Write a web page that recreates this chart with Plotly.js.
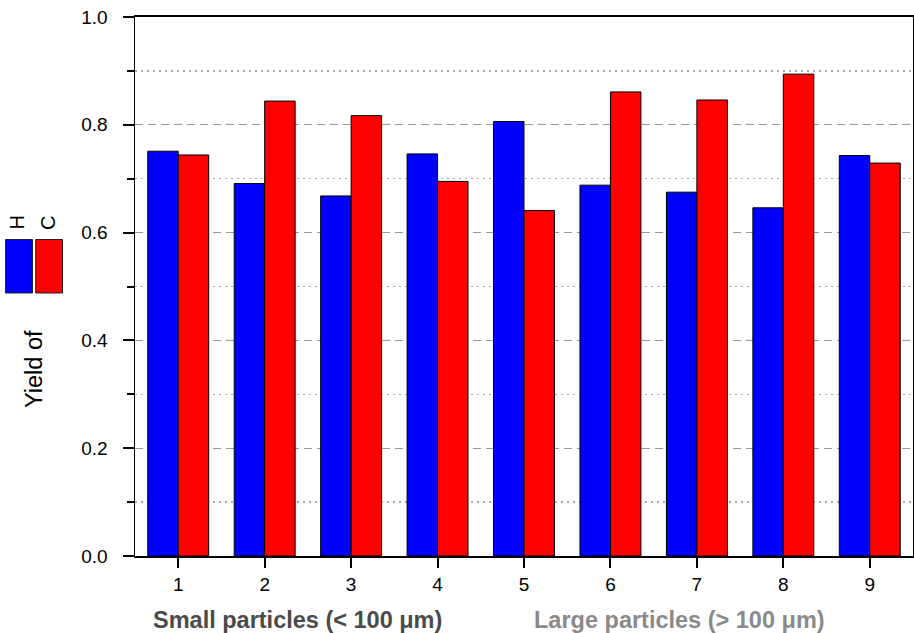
<!DOCTYPE html>
<html>
<head>
<meta charset="utf-8">
<script src="https://cdn.plot.ly/plotly-3.0.1.min.js"></script>
<style>html,body{margin:0;padding:0;background:#fff;}#chart{width:914px;height:633px;}</style>
</head>
<body>
<div id="chart"></div>
<script>
const categories = [1, 2, 3, 4, 5, 6, 7, 8, 9];
const yieldH = [0.751, 0.691, 0.668, 0.746, 0.806, 0.688, 0.675, 0.646, 0.743];
const yieldC = [0.744, 0.844, 0.817, 0.695, 0.641, 0.861, 0.846, 0.894, 0.729];
const seriesNames = ['H', 'C'];
const yTickVals = [0, 0.2, 0.4, 0.6, 0.8, 1.0];
const yTickText = ['0.0', '0.2', '0.4', '0.6', '0.8', '1.0'];
const yMinorVals = [0.1, 0.3, 0.5, 0.7, 0.9];

const FONT = 'Arial, "Liberation Sans", sans-serif';

const traces = [
  {type: 'bar', name: seriesNames[0], x: categories, y: yieldH,
   marker: {color: '#0000ff', line: {color: '#000', width: 1}}},
  {type: 'bar', name: seriesNames[1], x: categories, y: yieldC,
   marker: {color: '#ff0000', line: {color: '#000', width: 1}}}
];

const layout = {
  width: 914, height: 633,
  margin: {l: 135, r: 1, t: 17, b: 77},
  paper_bgcolor: '#fff', plot_bgcolor: '#fff',
  barmode: 'group', bargap: 0.295, bargroupgap: 0,
  showlegend: false,
  font: {family: FONT, color: '#000', size: 19},
  xaxis: {
    range: [0.5, 9.5], tickvals: categories, ticktext: categories.map(String),
    showgrid: false, zeroline: false,
    showline: true, linecolor: '#000', linewidth: 2, mirror: true,
    ticks: 'outside', ticklen: 10, tickwidth: 2, tickcolor: '#000',
    tickfont: {family: FONT, size: 19, color: '#000'}
  },
  yaxis: {
    range: [0, 1], tickmode: 'array', tickvals: yTickVals, ticktext: yTickText,
    showgrid: true, gridcolor: '#999', griddash: '8px,5px', gridwidth: 1,
    zeroline: false,
    showline: true, linecolor: '#000', linewidth: 1.5, mirror: true,
    ticks: 'outside', ticklen: 11, tickwidth: 2, tickcolor: '#000',
    ticklabelstandoff: 11,
    tickfont: {family: FONT, size: 19, color: '#000'},
    minor: {tickmode: 'array', tickvals: yMinorVals, ticks: 'outside', ticklen: 7, tickwidth: 2, tickcolor: '#000',
            showgrid: true, gridcolor: '#aaa', griddash: '2px,4px', gridwidth: 1.5}
  },
  annotations: [
    {text: '<b>Small particles (< 100 μm)</b>', xref: 'paper', yref: 'paper',
     x: 0.209, y: -0.119, xanchor: 'center', yanchor: 'middle', showarrow: false,
     font: {family: FONT, size: 23.5, color: '#4a4a4a'}},
    {text: '<b>Large particles (> 100 μm)</b>', xref: 'paper', yref: 'paper',
     x: 0.7005, y: -0.119, xanchor: 'center', yanchor: 'middle', showarrow: false,
     font: {family: FONT, size: 23.5, color: '#8a8a8a'}},
    {text: 'Yield of', xref: 'paper', yref: 'paper', textangle: -90,
     x: (34 - 135) / 778, y: (556 - 369) / 539, xanchor: 'center', yanchor: 'middle', showarrow: false,
     font: {family: FONT, size: 23.5, color: '#000'}},
    {text: 'H', xref: 'paper', yref: 'paper', textangle: -90,
     x: (16.5 - 135) / 778, y: (556 - 223) / 539, xanchor: 'center', yanchor: 'middle', showarrow: false,
     font: {family: FONT, size: 20, color: '#000'}},
    {text: 'C', xref: 'paper', yref: 'paper', textangle: -90,
     x: (48 - 135) / 778, y: (556 - 223) / 539, xanchor: 'center', yanchor: 'middle', showarrow: false,
     font: {family: FONT, size: 20, color: '#000'}}
  ],
  shapes: [
    {type: 'rect', xref: 'paper', yref: 'paper',
     x0: (5.5 - 135) / 778, x1: (32.5 - 135) / 778, y0: (556 - 293) / 539, y1: (556 - 239.5) / 539,
     fillcolor: '#0000ff', line: {color: '#222', width: 1}},
    {type: 'rect', xref: 'paper', yref: 'paper',
     x0: (35.7 - 135) / 778, x1: (62.5 - 135) / 778, y0: (556 - 293) / 539, y1: (556 - 239.5) / 539,
     fillcolor: '#ff0000', line: {color: '#222', width: 1}}
  ]
};

Plotly.newPlot('chart', traces, layout, {displayModeBar: false, staticPlot: true});
</script>
</body>
</html>
